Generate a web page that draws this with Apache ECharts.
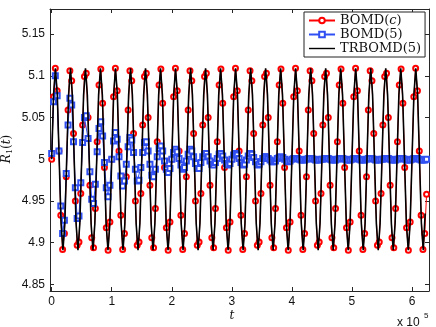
<!DOCTYPE html>
<html>
<head>
<meta charset="utf-8">
<script src="https://cdn.jsdelivr.net/npm/echarts@6/dist/echarts.min.js"></script>
<style>
  html, body { margin: 0; padding: 0; background: #fff; }
  #chart { width: 436px; height: 327px; }
</style>
</head>
<body>
<div id="chart"></div>
<script>
// sample spacing in t
const bomdStep = 3030.3;
const trbomdStep = 3125;

// BOMD(c): red circles
const bomdCValues = [
  5.000, 5.075, 5.109, 5.082, 5.010, 4.933, 4.892, 4.911, 4.979, 5.059, 5.106, 5.094, 5.031, 4.950, 4.897, 4.901, 4.959, 5.041, 5.099, 5.103, 5.050, 4.969, 4.906, 4.894, 4.941, 5.021, 5.089, 5.108, 5.067, 4.990, 4.918, 4.891, 4.925,
  5.000, 5.075, 5.109, 5.082, 5.010, 4.933, 4.892, 4.911, 4.979, 5.059, 5.106, 5.094, 5.031, 4.950, 4.897, 4.901, 4.959, 5.041, 5.099, 5.103, 5.050, 4.969, 4.906, 4.894, 4.941, 5.021, 5.089, 5.108, 5.067, 4.990, 4.918, 4.891, 4.925,
  5.000, 5.075, 5.109, 5.082, 5.010, 4.933, 4.892, 4.911, 4.979, 5.059, 5.106, 5.094, 5.031, 4.950, 4.897, 4.901, 4.959, 5.041, 5.099, 5.103, 5.050, 4.969, 4.906, 4.894, 4.941, 5.021, 5.089, 5.108, 5.067, 4.990, 4.918, 4.891, 4.925,
  5.000, 5.075, 5.109, 5.082, 5.010, 4.933, 4.892, 4.911, 4.979, 5.059, 5.106, 5.094, 5.031, 4.950, 4.897, 4.901, 4.959, 5.041, 5.099, 5.103, 5.050, 4.969, 4.906, 4.894, 4.941, 5.021, 5.089, 5.108, 5.067, 4.990, 4.918, 4.891, 4.925,
  5.000, 5.075, 5.109, 5.082, 5.010, 4.933, 4.892, 4.911, 4.979, 5.059, 5.106, 5.094, 5.031, 4.950, 4.897, 4.901, 4.959, 5.041, 5.099, 5.103, 5.050, 4.969, 4.906, 4.894, 4.941, 5.021, 5.089, 5.108, 5.067, 4.990, 4.918, 4.891, 4.925,
  5.000, 5.075, 5.109, 5.082, 5.010, 4.933, 4.892, 4.911, 4.979, 5.059, 5.106, 5.094, 5.031, 4.950, 4.897, 4.901, 4.959, 5.041, 5.099, 5.103, 5.050, 4.969, 4.906, 4.894, 4.941, 5.021, 5.089, 5.108, 5.067, 4.990, 4.918, 4.891, 4.925,
  5.000, 5.075, 5.109, 5.082, 5.010, 4.933, 4.892, 4.911, 4.958
];

// BOMD(5): blue squares, decaying
const bomd5Values = [
  5.007, 5.069, 5.100, 5.076, 5.010, 4.944, 4.911, 4.927, 4.983,
  5.041, 5.073, 5.065, 5.021, 4.966, 4.929, 4.932, 4.972,
  5.020, 5.050, 5.052, 5.025, 4.985, 4.952, 4.947, 4.970,
  5.009, 5.037, 5.045, 5.028, 4.996, 4.966, 4.955, 4.969,
  5.000, 5.022, 5.032, 5.024, 5.003, 4.980, 4.968, 4.974, 4.994,
  5.015, 5.026, 5.023, 5.008, 4.988, 4.974, 4.975, 4.990,
  5.008, 5.020, 5.021, 5.010, 4.994, 4.981, 4.979, 4.988,
  5.003, 5.013, 5.016, 5.010, 4.998, 4.988, 4.984, 4.989,
  5.000, 5.008, 5.012, 5.009, 5.001, 4.993, 4.988, 4.990, 4.998, 5.006, 5.012, 5.010, 5.003, 4.995, 4.989, 4.989, 4.996,
  5.003, 5.006, 5.007, 5.003, 4.998, 4.994, 4.993, 4.996, 5.001, 5.006, 5.007, 5.004, 4.999, 4.995, 4.993, 4.995,
  5.000, 5.005, 5.007, 5.005, 5.001, 4.996, 4.993, 4.994, 4.999, 5.004, 5.007, 5.006, 5.002, 4.997, 4.993, 4.994, 4.997,
  5.001, 5.003, 5.003, 5.001, 4.999, 4.997, 4.997, 4.998, 5.001, 5.002, 5.003, 5.002, 5.000, 4.998, 4.997, 4.998, 5.000,
  5.001, 5.001, 5.001, 5.000, 4.999, 4.999, 4.999, 5.000, 5.001, 5.001, 5.001, 5.000, 4.999, 4.999, 4.999, 5.000,
  5.000, 5.001, 5.001, 5.001, 5.000, 4.999, 4.999, 4.999, 5.000, 5.001, 5.001, 5.001, 5.000, 4.999, 4.999, 4.999, 5.000,
  5.001, 5.001, 5.001, 5.000, 4.999, 4.999, 4.999, 5.000, 5.001, 5.001, 5.001, 5.000, 4.999, 4.999, 4.999, 5.000,
  5.000, 5.001, 5.001, 5.001, 5.000, 4.999, 4.999, 4.999, 5.000, 5.001, 5.001, 5.001, 5.000, 4.999, 4.999, 4.999, 5.000,
  5.001, 5.001, 5.001, 5.000, 4.999, 4.999, 4.999, 5.000
];

// TRBOMD(5): black line
const trbomd5Values = [
  5.000, 5.077, 5.109, 5.077, 5.000, 4.923, 4.891, 4.923,
  5.000, 5.077, 5.109, 5.077, 5.000, 4.923, 4.891, 4.923,
  5.000, 5.077, 5.109, 5.077, 5.000, 4.923, 4.891, 4.923,
  5.000, 5.077, 5.109, 5.077, 5.000, 4.923, 4.891, 4.923,
  5.000, 5.077, 5.109, 5.077, 5.000, 4.923, 4.891, 4.923,
  5.000, 5.077, 5.109, 5.077, 5.000, 4.923, 4.891, 4.923,
  5.000, 5.077, 5.109, 5.077, 5.000, 4.923, 4.891, 4.923,
  5.000, 5.077, 5.109, 5.077, 5.000, 4.923, 4.891, 4.923,
  5.000, 5.077, 5.109, 5.077, 5.000, 4.923, 4.891, 4.923,
  5.000, 5.077, 5.109, 5.077, 5.000, 4.923, 4.891, 4.923,
  5.000, 5.077, 5.109, 5.077, 5.000, 4.923, 4.891, 4.923,
  5.000, 5.077, 5.109, 5.077, 5.000, 4.923, 4.891, 4.923,
  5.000, 5.077, 5.109, 5.077, 5.000, 4.923, 4.891, 4.923,
  5.000, 5.077, 5.109, 5.077, 5.000, 4.923, 4.891, 4.923,
  5.000, 5.077, 5.109, 5.077, 5.000, 4.923, 4.891, 4.923,
  5.000, 5.077, 5.109, 5.077, 5.000, 4.923, 4.891, 4.923,
  5.000, 5.077, 5.109, 5.077, 5.000, 4.923, 4.891, 4.923,
  5.000, 5.077, 5.109, 5.077, 5.000, 4.923, 4.891, 4.923,
  5.000, 5.077, 5.109, 5.077, 5.000, 4.923, 4.891, 4.923,
  5.000, 5.077, 5.109, 5.077, 5.000, 4.923, 4.891, 4.923,
  5.000, 5.077, 5.109, 5.077, 5.000, 4.923, 4.891, 4.923,
  5.000, 5.077, 5.109, 5.077, 5.000, 4.923, 4.891, 4.923,
  5.000, 5.077, 5.109, 5.077, 5.000, 4.923, 4.891, 4.923,
  5.000, 5.077, 5.109, 5.077, 5.000, 4.923, 4.891, 4.923,
  5.000, 5.077, 5.109, 5.077, 5.000, 4.923, 4.891, 4.935
];

const seriesNames = ['BOMD(c)', 'BOMD(5)', 'TRBOMD(5)'];
const xTicks = [0, 100000, 200000, 300000, 400000, 500000, 600000];
const xTickLabels = ['0', '1', '2', '3', '4', '5', '6'];
const yTicks = [4.85, 4.9, 4.95, 5, 5.05, 5.1, 5.15];
const yTickLabels = ['4.85', '4.9', '4.95', '5', '5.05', '5.1', '5.15'];

const xMin = -2800, xMax = 628300;
const yMin = 4.8422, yMax = 5.18;

const toPoints = (vals, step) => vals.map((v, i) => [i * step, v]);
const nearestLabel = (ticks, labels) => v => {
  let best = 0;
  ticks.forEach((t, i) => { if (Math.abs(t - v) < Math.abs(ticks[best] - v)) best = i; });
  return labels[best];
};

const axisColor = '#262626';
const labelFont = { fontFamily: 'Liberation Sans, Arial, sans-serif', fontSize: 12, color: '#111' };

const chart = echarts.init(document.getElementById('chart'), null, { renderer: 'canvas' });

chart.setOption({
  animation: false,
  backgroundColor: '#fff',
  grid: { left: 50, right: 7, top: 9, bottom: 36 },
  legend: {
    orient: 'vertical',
    left: 304,
    top: 12,
    z: 10,
    padding: [2, 4, 2, 4],
    itemGap: 1,
    itemWidth: 26,
    itemHeight: 7,
    backgroundColor: '#fff',
    borderColor: '#222',
    borderWidth: 1,
    borderRadius: 0,
    data: [
      seriesNames[0],
      seriesNames[1],
      { name: seriesNames[2], icon: 'path://M0,0L26,0L26,1.4L0,1.4Z' }
    ],
    formatter: name => name === 'BOMD(c)' ? 'BOMD({i|c})' : name,
    textStyle: {
      fontFamily: 'DejaVu Serif, serif',
      fontSize: 13,
      lineHeight: 13,
      color: '#111',
      rich: {
        i: { fontFamily: 'DejaVu Serif, serif', fontSize: 13, fontStyle: 'italic', color: '#111' }
      }
    }
  },
  xAxis: [
    {
      type: 'value', min: xMin, max: xMax, position: 'bottom',
      axisLine: { show: true, onZero: false, lineStyle: { color: axisColor, width: 1 } },
      axisTick: { show: true, inside: true, length: 4, customValues: xTicks, lineStyle: { color: axisColor } },
      axisLabel: { customValues: xTicks, margin: 5, formatter: nearestLabel(xTicks, xTickLabels), ...labelFont },
      splitLine: { show: false }
    },
    {
      type: 'value', min: xMin, max: xMax, position: 'top',
      axisLine: { show: true, onZero: false, lineStyle: { color: axisColor, width: 1 } },
      axisTick: { show: true, inside: true, length: 4, customValues: xTicks, lineStyle: { color: axisColor } },
      axisLabel: { show: false },
      splitLine: { show: false }
    }
  ],
  yAxis: [
    {
      type: 'value', min: yMin, max: yMax, position: 'left',
      axisLine: { show: true, onZero: false, lineStyle: { color: axisColor, width: 1 } },
      axisTick: { show: true, inside: true, length: 4, customValues: yTicks, lineStyle: { color: axisColor } },
      axisLabel: { customValues: yTicks, margin: 5, formatter: nearestLabel(yTicks, yTickLabels), ...labelFont },
      splitLine: { show: false }
    },
    {
      type: 'value', min: yMin, max: yMax, position: 'right',
      axisLine: { show: true, onZero: false, lineStyle: { color: axisColor, width: 1 } },
      axisTick: { show: true, inside: true, length: 4, customValues: yTicks, lineStyle: { color: axisColor } },
      axisLabel: { show: false },
      splitLine: { show: false }
    }
  ],
  series: [
    {
      name: seriesNames[0], type: 'line', z: 2,
      data: toPoints(bomdCValues, bomdStep),
      symbol: 'emptyCircle', symbolSize: 5, showAllSymbol: true,
      itemStyle: { color: '#ff0000', borderWidth: 1 },
      lineStyle: { color: '#ff0000', width: 1 }
    },
    {
      name: seriesNames[1], type: 'line', z: 3,
      data: toPoints(bomd5Values, bomdStep),
      symbol: 'emptyRect', symbolSize: 5, showAllSymbol: true,
      itemStyle: { color: '#2f4ff2', borderWidth: 1 },
      lineStyle: { color: '#2f4ff2', width: 1 }
    },
    {
      name: seriesNames[2], type: 'line', z: 4,
      data: toPoints(trbomd5Values, trbomdStep),
      symbol: 'none',
      itemStyle: { color: '#000' },
      lineStyle: { color: '#000', width: 1.6 }
    }
  ],
  graphic: [
    {
      type: 'text', x: 232, y: 316,
      style: { text: 't', font: 'italic 12px "DejaVu Serif", serif', fill: '#111', align: 'center', verticalAlign: 'middle' }
    },
    {
      type: 'text', x: 7, y: 149, rotation: Math.PI / 2,
      style: {
        text: '{i|R}{s|1}({i|t})',
        align: 'center', verticalAlign: 'middle',
        font: '12px "DejaVu Serif", serif', fill: '#111',
        rich: {
          i: { fontFamily: 'DejaVu Serif', fontSize: 12, fontStyle: 'italic', fill: '#111' },
          s: { fontFamily: 'DejaVu Serif', fontSize: 8, fill: '#111', padding: [6, 0, 0, 0] }
        }
      }
    },
    {
      type: 'text', x: 397, y: 323,
      style: { text: 'x 10', font: '12px "Liberation Sans", Arial, sans-serif', fill: '#111', verticalAlign: 'middle' }
    },
    {
      type: 'text', x: 424, y: 316,
      style: { text: '5', font: '8px "Liberation Sans", Arial, sans-serif', fill: '#111', verticalAlign: 'middle' }
    }
  ]
});
</script>
</body>
</html>
